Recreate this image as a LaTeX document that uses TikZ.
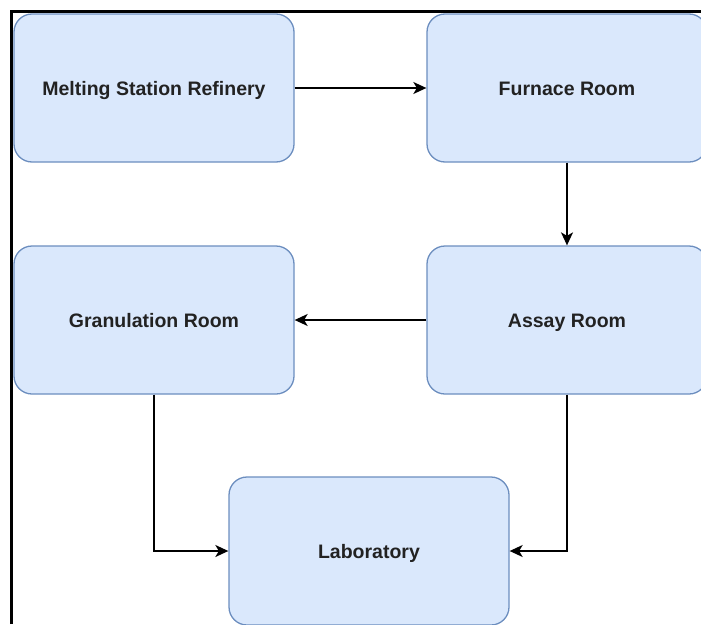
\documentclass[tikz,border=0pt]{standalone}
\usepackage{fontspec}
\setmainfont{Liberation Sans}
\usetikzlibrary{arrows.meta}
\definecolor{boxfill}{HTML}{DAE8FC}
\definecolor{boxdraw}{HTML}{6C8EBF}
\definecolor{txt}{HTML}{222222}
\tikzset{
  procbox/.style={draw=boxdraw, fill=boxfill, line width=1.3pt, rounded corners=18pt,
    minimum width=280pt, minimum height=148pt, inner sep=0pt, text height=14pt, text depth=0pt,
    font=\fontsize{19.5}{23}\selectfont\bfseries, text=txt},
  flow/.style={draw=black, line width=1.4pt, -{Stealth[length=13pt, width=12pt, inset=3.5pt]}}
}
\begin{document}
\begin{tikzpicture}[x=1pt, y=-1pt]
\useasboundingbox (0,0) rectangle (701,624);
\node[procbox] (melt) at (154,88) {Melting Station Refinery};
\node[procbox] (furn) at (567,88) {Furnace Room};
\node[procbox] (gran) at (154,320) {Granulation Room};
\node[procbox] (assay) at (567,320) {Assay Room};
\node[procbox] (lab) at (369,551) {Laboratory};
\draw[flow] (melt) -- (furn);
\draw[flow] (furn) -- (assay);
\draw[flow] (assay) -- (gran);
\draw[flow] (gran.south) |- (lab.west);
\draw[flow] (assay.south) |- (lab.east);
\draw[line width=3pt, black] (11,624) -- (11,11) -- (701,11);
\end{tikzpicture}
\end{document}
